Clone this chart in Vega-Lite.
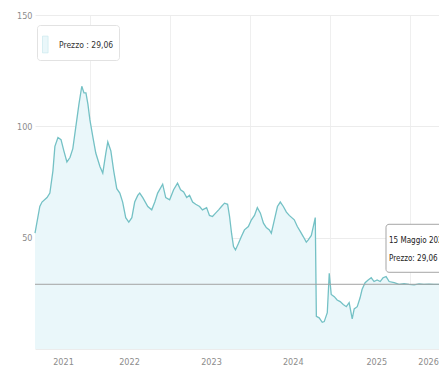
{
  "$schema": "https://vega.github.io/schema/vega-lite/v6.json",
  "width": 404,
  "height": 334,
  "autosize": {"type": "none"},
  "padding": {"left": 35, "top": 15, "right": 0, "bottom": 23},
  "background": "white",
  "config": {
    "view": {"stroke": null},
    "font": "Liberation Sans Narrow, DejaVu Sans Condensed, sans-serif"
  },
  "datasets": {
    "prezzo": [
      {"data": "2021-04-23", "prezzo": 52},
      {"data": "2021-05-15", "prezzo": 64},
      {"data": "2021-05-25", "prezzo": 66},
      {"data": "2021-06-17", "prezzo": 68},
      {"data": "2021-06-30", "prezzo": 70},
      {"data": "2021-07-14", "prezzo": 80},
      {"data": "2021-07-23", "prezzo": 91},
      {"data": "2021-08-06", "prezzo": 95},
      {"data": "2021-08-20", "prezzo": 94},
      {"data": "2021-09-02", "prezzo": 89},
      {"data": "2021-09-16", "prezzo": 84},
      {"data": "2021-09-30", "prezzo": 86},
      {"data": "2021-10-13", "prezzo": 90},
      {"data": "2021-10-27", "prezzo": 100},
      {"data": "2021-11-10", "prezzo": 110},
      {"data": "2021-11-23", "prezzo": 118},
      {"data": "2021-12-03", "prezzo": 115},
      {"data": "2021-12-12", "prezzo": 115},
      {"data": "2021-12-21", "prezzo": 110},
      {"data": "2021-12-30", "prezzo": 103},
      {"data": "2022-01-13", "prezzo": 95},
      {"data": "2022-01-26", "prezzo": 88},
      {"data": "2022-02-14", "prezzo": 82},
      {"data": "2022-02-27", "prezzo": 79},
      {"data": "2022-03-13", "prezzo": 88},
      {"data": "2022-03-22", "prezzo": 93},
      {"data": "2022-04-05", "prezzo": 89},
      {"data": "2022-04-18", "prezzo": 80},
      {"data": "2022-05-02", "prezzo": 72},
      {"data": "2022-05-16", "prezzo": 70},
      {"data": "2022-05-29", "prezzo": 66},
      {"data": "2022-06-12", "prezzo": 59},
      {"data": "2022-06-26", "prezzo": 57},
      {"data": "2022-07-10", "prezzo": 59},
      {"data": "2022-07-23", "prezzo": 66},
      {"data": "2022-08-06", "prezzo": 69},
      {"data": "2022-08-15", "prezzo": 70},
      {"data": "2022-08-29", "prezzo": 68},
      {"data": "2022-09-21", "prezzo": 64},
      {"data": "2022-10-09", "prezzo": 62.5},
      {"data": "2022-10-23", "prezzo": 66},
      {"data": "2022-11-05", "prezzo": 70},
      {"data": "2022-11-28", "prezzo": 74},
      {"data": "2022-12-12", "prezzo": 68},
      {"data": "2022-12-30", "prezzo": 67},
      {"data": "2023-01-17", "prezzo": 71.5},
      {"data": "2023-02-04", "prezzo": 74.5},
      {"data": "2023-02-18", "prezzo": 71.5},
      {"data": "2023-03-04", "prezzo": 70.5},
      {"data": "2023-03-18", "prezzo": 68},
      {"data": "2023-03-31", "prezzo": 69},
      {"data": "2023-04-14", "prezzo": 66},
      {"data": "2023-04-28", "prezzo": 65},
      {"data": "2023-05-16", "prezzo": 64},
      {"data": "2023-05-29", "prezzo": 62.5},
      {"data": "2023-06-17", "prezzo": 63.5},
      {"data": "2023-06-30", "prezzo": 60},
      {"data": "2023-07-14", "prezzo": 59.5},
      {"data": "2023-07-28", "prezzo": 61},
      {"data": "2023-08-11", "prezzo": 62.5},
      {"data": "2023-08-24", "prezzo": 64},
      {"data": "2023-09-07", "prezzo": 65.5},
      {"data": "2023-09-21", "prezzo": 65},
      {"data": "2023-09-30", "prezzo": 59.5},
      {"data": "2023-10-09", "prezzo": 52},
      {"data": "2023-10-18", "prezzo": 46},
      {"data": "2023-10-27", "prezzo": 44.5},
      {"data": "2023-11-10", "prezzo": 47.5},
      {"data": "2023-11-23", "prezzo": 50.5},
      {"data": "2023-12-07", "prezzo": 53.5},
      {"data": "2023-12-25", "prezzo": 55},
      {"data": "2024-01-08", "prezzo": 58},
      {"data": "2024-01-22", "prezzo": 60},
      {"data": "2024-02-04", "prezzo": 63.5},
      {"data": "2024-02-18", "prezzo": 61},
      {"data": "2024-03-03", "prezzo": 56.5},
      {"data": "2024-03-16", "prezzo": 54.5},
      {"data": "2024-03-30", "prezzo": 53.5},
      {"data": "2024-04-08", "prezzo": 52},
      {"data": "2024-04-22", "prezzo": 58},
      {"data": "2024-05-06", "prezzo": 64},
      {"data": "2024-05-19", "prezzo": 66},
      {"data": "2024-06-02", "prezzo": 64},
      {"data": "2024-06-16", "prezzo": 61.5},
      {"data": "2024-06-29", "prezzo": 60},
      {"data": "2024-07-22", "prezzo": 58},
      {"data": "2024-08-05", "prezzo": 55},
      {"data": "2024-08-19", "prezzo": 52.7},
      {"data": "2024-09-01", "prezzo": 50.5},
      {"data": "2024-09-15", "prezzo": 48},
      {"data": "2024-09-24", "prezzo": 49},
      {"data": "2024-10-08", "prezzo": 51},
      {"data": "2024-10-17", "prezzo": 55},
      {"data": "2024-10-26", "prezzo": 59},
      {"data": "2024-10-31", "prezzo": 14.7},
      {"data": "2024-11-13", "prezzo": 14},
      {"data": "2024-11-27", "prezzo": 12},
      {"data": "2024-12-06", "prezzo": 12.3},
      {"data": "2024-12-20", "prezzo": 16.3},
      {"data": "2024-12-29", "prezzo": 34},
      {"data": "2025-01-07", "prezzo": 24.5},
      {"data": "2025-01-21", "prezzo": 23.5},
      {"data": "2025-02-03", "prezzo": 22},
      {"data": "2025-02-17", "prezzo": 21.3},
      {"data": "2025-03-03", "prezzo": 20},
      {"data": "2025-03-17", "prezzo": 19},
      {"data": "2025-03-30", "prezzo": 20.8},
      {"data": "2025-04-13", "prezzo": 13.5},
      {"data": "2025-04-22", "prezzo": 18},
      {"data": "2025-05-06", "prezzo": 19},
      {"data": "2025-05-19", "prezzo": 23},
      {"data": "2025-05-28", "prezzo": 26.7},
      {"data": "2025-06-11", "prezzo": 29.8},
      {"data": "2025-06-25", "prezzo": 31},
      {"data": "2025-07-09", "prezzo": 32},
      {"data": "2025-07-22", "prezzo": 30.3},
      {"data": "2025-08-05", "prezzo": 31},
      {"data": "2025-08-19", "prezzo": 30.3},
      {"data": "2025-09-01", "prezzo": 32},
      {"data": "2025-09-15", "prezzo": 32.5},
      {"data": "2025-09-29", "prezzo": 30.3},
      {"data": "2025-10-22", "prezzo": 29.8},
      {"data": "2025-11-13", "prezzo": 29},
      {"data": "2025-12-06", "prezzo": 29.3},
      {"data": "2025-12-29", "prezzo": 29},
      {"data": "2026-01-21", "prezzo": 28.8},
      {"data": "2026-02-13", "prezzo": 29.2},
      {"data": "2026-03-07", "prezzo": 29},
      {"data": "2026-03-30", "prezzo": 29.1},
      {"data": "2026-04-22", "prezzo": 29},
      {"data": "2026-05-15", "prezzo": 29.06}
    ],
    "ultimo": [
      {"data": "2026-05-15", "prezzo": 29.06, "etichetta": "15 Maggio 2026", "valore": "Prezzo: 29,06"}
    ]
  },
  "layer": [
    {
      "data": {"name": "prezzo"},
      "mark": {"type": "area"},
      "encoding": {
        "x": {
          "field": "data", "type": "temporal",
          "scale": {"domain": [{"year": 2021, "month": 4, "date": 23}, {"year": 2026, "month": 5, "date": 15}]},
          "axis": {
            "orient": "bottom", "title": null, "labels": false, "ticks": false, "domain": false,
            "grid": true, "gridColor": "#efefef",
            "values": [{"year": 2022, "month": 1, "date": 1}, {"year": 2023, "month": 1, "date": 1}, {"year": 2024, "month": 1, "date": 1}, {"year": 2025, "month": 1, "date": 1}, {"year": 2026, "month": 1, "date": 1}]
          }
        },
        "y": {
          "field": "prezzo", "type": "quantitative",
          "scale": {"domain": [0, 150], "nice": false},
          "axis": {
            "title": null, "values": [0, 50, 100, 150], "domain": false, "ticks": false,
            "labelExpr": "datum.value == 0 ? '' : datum.label",
            "labelColor": "#8c8c8c", "labelFontSize": 9, "labelPadding": 3,
            "grid": true, "gridColor": "#ececec"
          }
        },
        "fill": {
          "datum": "Prezzo : 29,06", "type": "nominal",
          "scale": {"range": ["#eaf7fa"]},
          "legend": {
            "title": null, "orient": "none", "legendX": 2, "legendY": 10,
            "padding": 5, "strokeColor": "#e2e2e2", "fillColor": "white", "cornerRadius": 3,
            "symbolType": "M-1,-0.6H-0.6V0.6H-1Z", "symbolSize": 784,
            "labelFontSize": 8.5, "labelColor": "#333333", "labelOffset": -12,
            "encode": {"symbols": {"update": {"fill": {"value": "#d9f1f5"}, "stroke": {"value": "#c2e6eb"}, "strokeWidth": {"value": 0.6}}}}
          }
        }
      }
    },
    {
      "data": {"name": "prezzo"},
      "mark": {"type": "line", "color": "#74c1c5", "strokeWidth": 1.3},
      "encoding": {
        "x": {
          "field": "data", "type": "temporal",
          "axis": {
            "orient": "bottom", "title": null, "grid": false, "ticks": false, "domain": false,
            "format": "%Y", "labelColor": "#8c8c8c", "labelFontSize": 9, "labelPadding": 8,
            "values": [{"year": 2021, "month": 8, "date": 29}, {"year": 2022, "month": 6, "date": 27}, {"year": 2023, "month": 7, "date": 7}, {"year": 2024, "month": 7, "date": 15}, {"year": 2025, "month": 8, "date": 1}, {"year": 2026, "month": 3, "date": 26}]
          }
        },
        "y": {"field": "prezzo", "type": "quantitative"}
      }
    },
    {
      "data": {"values": [{}]},
      "mark": {"type": "rule", "color": "#a3a3a3", "strokeWidth": 1},
      "encoding": {"y": {"datum": 29.06, "type": "quantitative"}}
    },
    {
      "data": {"name": "ultimo"},
      "mark": {"type": "rect", "width": 66, "height": 48, "xOffset": -20, "yOffset": -36, "fill": "white", "stroke": "#a5a5a5", "strokeWidth": 1, "cornerRadius": 3},
      "encoding": {
        "x": {"field": "data", "type": "temporal", "axis": null},
        "y": {"field": "prezzo", "type": "quantitative"}
      }
    },
    {
      "data": {"name": "ultimo"},
      "mark": {"type": "text", "align": "left", "baseline": "middle", "dx": -50, "dy": -43, "fontSize": 8, "color": "#222222"},
      "encoding": {
        "x": {"field": "data", "type": "temporal", "axis": null},
        "y": {"field": "prezzo", "type": "quantitative"},
        "text": {"field": "etichetta"}
      }
    },
    {
      "data": {"name": "ultimo"},
      "mark": {"type": "text", "align": "left", "baseline": "middle", "dx": -50, "dy": -25, "fontSize": 8, "color": "#222222"},
      "encoding": {
        "x": {"field": "data", "type": "temporal", "axis": null},
        "y": {"field": "prezzo", "type": "quantitative"},
        "text": {"field": "valore"}
      }
    }
  ],
  "resolve": {"axis": {"x": "independent"}}
}
